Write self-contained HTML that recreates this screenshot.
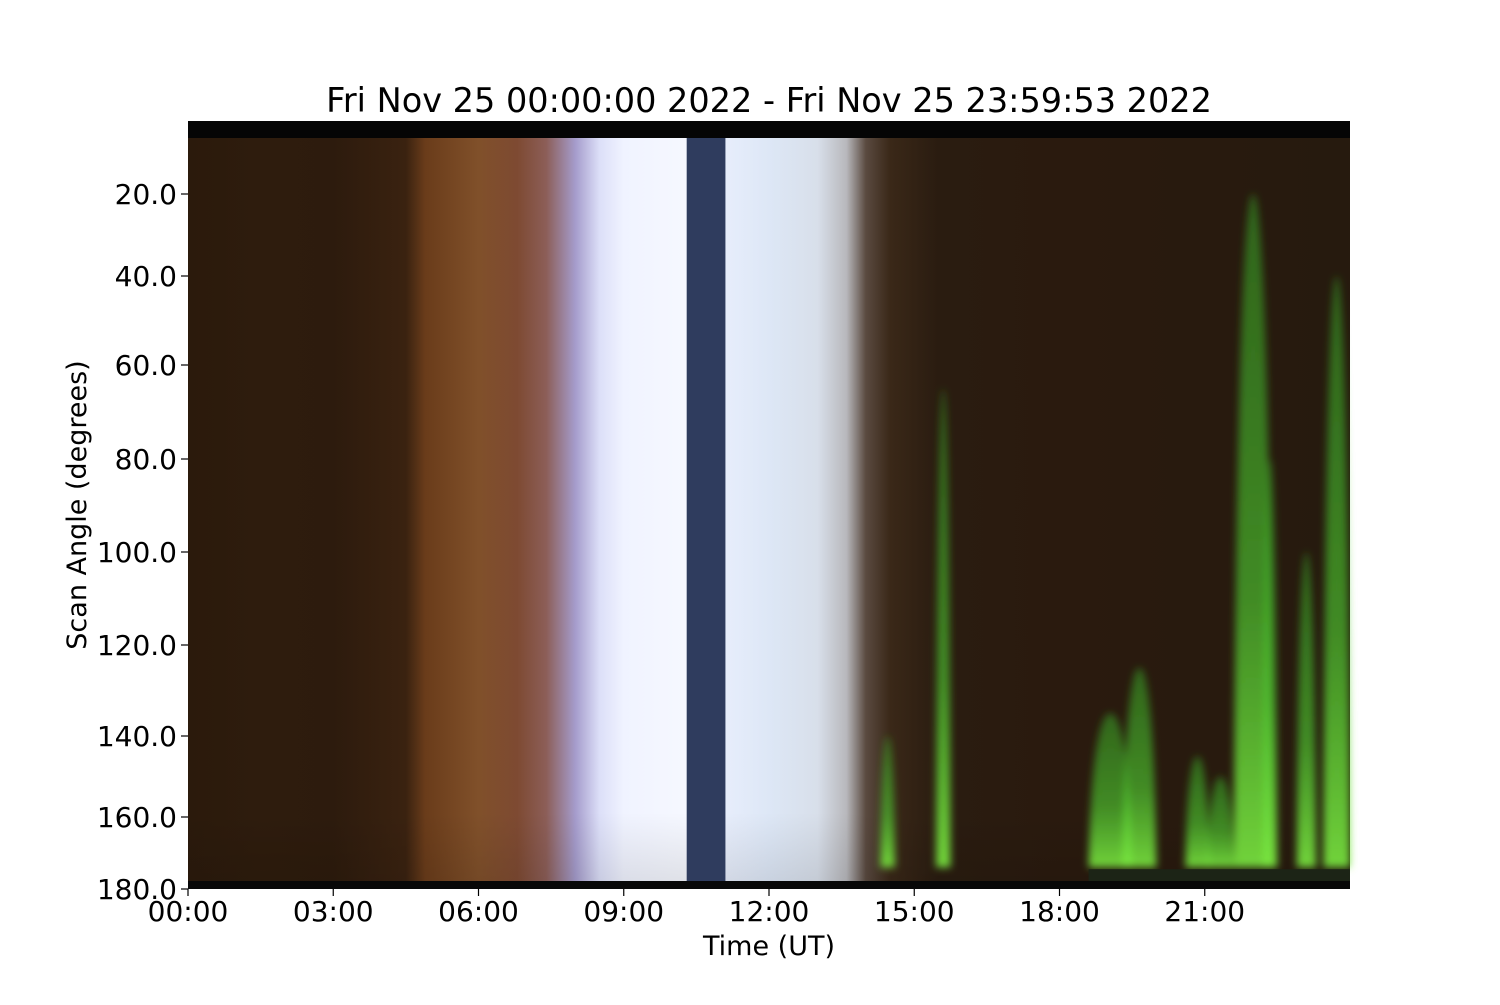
<!DOCTYPE html>
<html><head><meta charset="utf-8"><style>
body{margin:0;background:#fff;}
svg text{font-family:"DejaVu Sans","Liberation Sans",sans-serif;fill:#000;}
</style></head><body>
<svg id="chart" width="1500" height="1000" viewBox="0 0 1500 1000" xmlns="http://www.w3.org/2000/svg">
<defs>
<linearGradient id="skyGrad" x1="0" x2="1" y1="0" y2="0"></linearGradient>
<linearGradient id="vfade" x1="0" x2="0" y1="0" y2="1">
<stop offset="0" stop-color="#000" stop-opacity="0"/>
<stop offset="0.9" stop-color="#000" stop-opacity="0"/>
<stop offset="1" stop-color="#000" stop-opacity="0.1"/>
</linearGradient>
<linearGradient id="auroraGrad" x1="0" x2="0" y1="0" y2="1">
<stop offset="0" stop-color="#3cc02a" stop-opacity="0.45"/>
<stop offset="0.6" stop-color="#4fc830" stop-opacity="0.65"/>
<stop offset="1" stop-color="#7ae840" stop-opacity="0.9"/>
</linearGradient>
<filter id="blur"><feGaussianBlur stdDeviation="4"/></filter>
</defs>
<text x="769" y="112" font-size="33.5" text-anchor="middle">Fri Nov 25 00:00:00 2022 - Fri Nov 25 23:59:53 2022</text>
<g id="plot"></g>
<g id="xaxis"></g>
<g id="yaxis"></g>
<text x="769" y="955" font-size="27" text-anchor="middle">Time (UT)</text>
<text transform="translate(86,505) rotate(-90)" font-size="27" text-anchor="middle">Scan Angle (degrees)</text>
</svg>
<script>
// data
const colorHours = [0, 1.5, 3, 4.5, 4.9, 6, 6.8, 7.4, 8, 8.5, 9, 10.3, 11.0, 12, 13, 13.6, 14.0, 14.5, 15.5, 18, 24];
const colorValues = ['#2b1a0c','#2e1c0d','#2d1b0d','#3a2210','#6a3c1a','#80502a','#7e4a32','#8c5e58','#a59ccc','#dcdff8','#f0f3ff','#f6f8ff','#e8eefc','#dde7f6','#d8dfea','#b8b8bc','#5a4a40','#3a2818','#2a1c10','#2a1a0e','#261a0e'];
const gapStart = 10.3, gapEnd = 11.1;
const auroraStart = [14.3, 15.45, 18.6, 19.3, 20.6, 21.05, 21.6, 22.2, 22.9, 23.45];
const auroraEnd   = [14.6, 15.75, 19.5, 20.0, 21.1, 21.6, 22.4, 22.5, 23.3, 24.0];
const auroraTop   = [140, 65, 135, 125, 145, 150, 20, 80, 100, 40];
const xTicks = [0, 3, 6, 9, 12, 15, 18, 21];
const xTickLabels = ['00:00','03:00','06:00','09:00','12:00','15:00','18:00','21:00'];
const yTicks = [20, 40, 60, 80, 100, 120, 140, 160, 180];
const yTickLabels = ['20.0','40.0','60.0','80.0','100.0','120.0','140.0','160.0','180.0'];

const NS='http://www.w3.org/2000/svg';
const L=188,R=1350,T=121,B=889;
const xs=h=>L+(R-L)*h/24;
const kD=[0,20,40,60,80,100,120,140,160,180], kP=[110,194,276,365,459,552,645,736,817,889];
function ys(d){for(let i=0;i<kD.length-1;i++){if(d<=kD[i+1]){const f=(d-kD[i])/(kD[i+1]-kD[i]);return kP[i]+f*(kP[i+1]-kP[i]);}}return B;}
function mk(tag,attrs,parent){const e=document.createElementNS(NS,tag);for(const k in attrs)e.setAttribute(k,attrs[k]);parent.appendChild(e);return e;}
const grad=document.getElementById('skyGrad');
colorHours.forEach((h,i)=>mk('stop',{offset:h/24,'stop-color':colorValues[i]},grad));
const plot=document.getElementById('plot');
const bg=mk('rect',{x:L,y:T,width:R-L,height:B-T,fill:'url(#skyGrad)'},plot);


mk('rect',{x:L,y:T,width:R-L,height:B-T,fill:'url(#vfade)'},plot);
const g=mk('g',{filter:'url(#blur)'},plot);
auroraStart.forEach((s,i)=>{
  const x0=xs(s),x1=xs(auroraEnd[i]),yt=ys(auroraTop[i]),yb=ys(174),w=x1-x0;
  const p=mk('path',{d:`M${x0},${yb} C${x0+w*0.05},${yt+(yb-yt)*0.3} ${x0+w*0.25},${yt} ${x0+w*0.5},${yt} C${x1-w*0.25},${yt} ${x1-w*0.05},${yt+(yb-yt)*0.3} ${x1},${yb} Z`,fill:'url(#auroraGrad)'},g);
  
  
});
const gap=mk('rect',{x:xs(gapStart),y:T,width:xs(gapEnd)-xs(gapStart),height:B-T,fill:'#2f3c5e'},plot);


const tb=mk('rect',{x:L,y:T,width:R-L,height:17,fill:'#050505'},plot);


const bb=mk('rect',{x:L,y:B-8,width:R-L,height:8,fill:'#080808'},plot);


mk('rect',{x:xs(18.6),y:ys(174.5),width:R-xs(18.6),height:B-8-ys(174.5),fill:'#1c2416'},plot);
const xa=document.getElementById('xaxis');
xTicks.forEach((h,i)=>{
  mk('line',{x1:xs(h),x2:xs(h),y1:B,y2:B+7,stroke:'#000','stroke-width':1.2},xa);
  const t=mk('text',{x:xs(h),y:B+32,'font-size':28,'text-anchor':'middle'},xa);
  t.textContent=xTickLabels[i];
  
  
});
const ya=document.getElementById('yaxis');
yTicks.forEach((d,i)=>{
  mk('line',{x1:L-7,x2:L,y1:ys(d),y2:ys(d),stroke:'#000','stroke-width':1.2},ya);
  const t=mk('text',{x:L-11,y:ys(d)+10,'font-size':28,'text-anchor':'end'},ya);
  t.textContent=yTickLabels[i];
  
  
});
</script>
</body></html>
